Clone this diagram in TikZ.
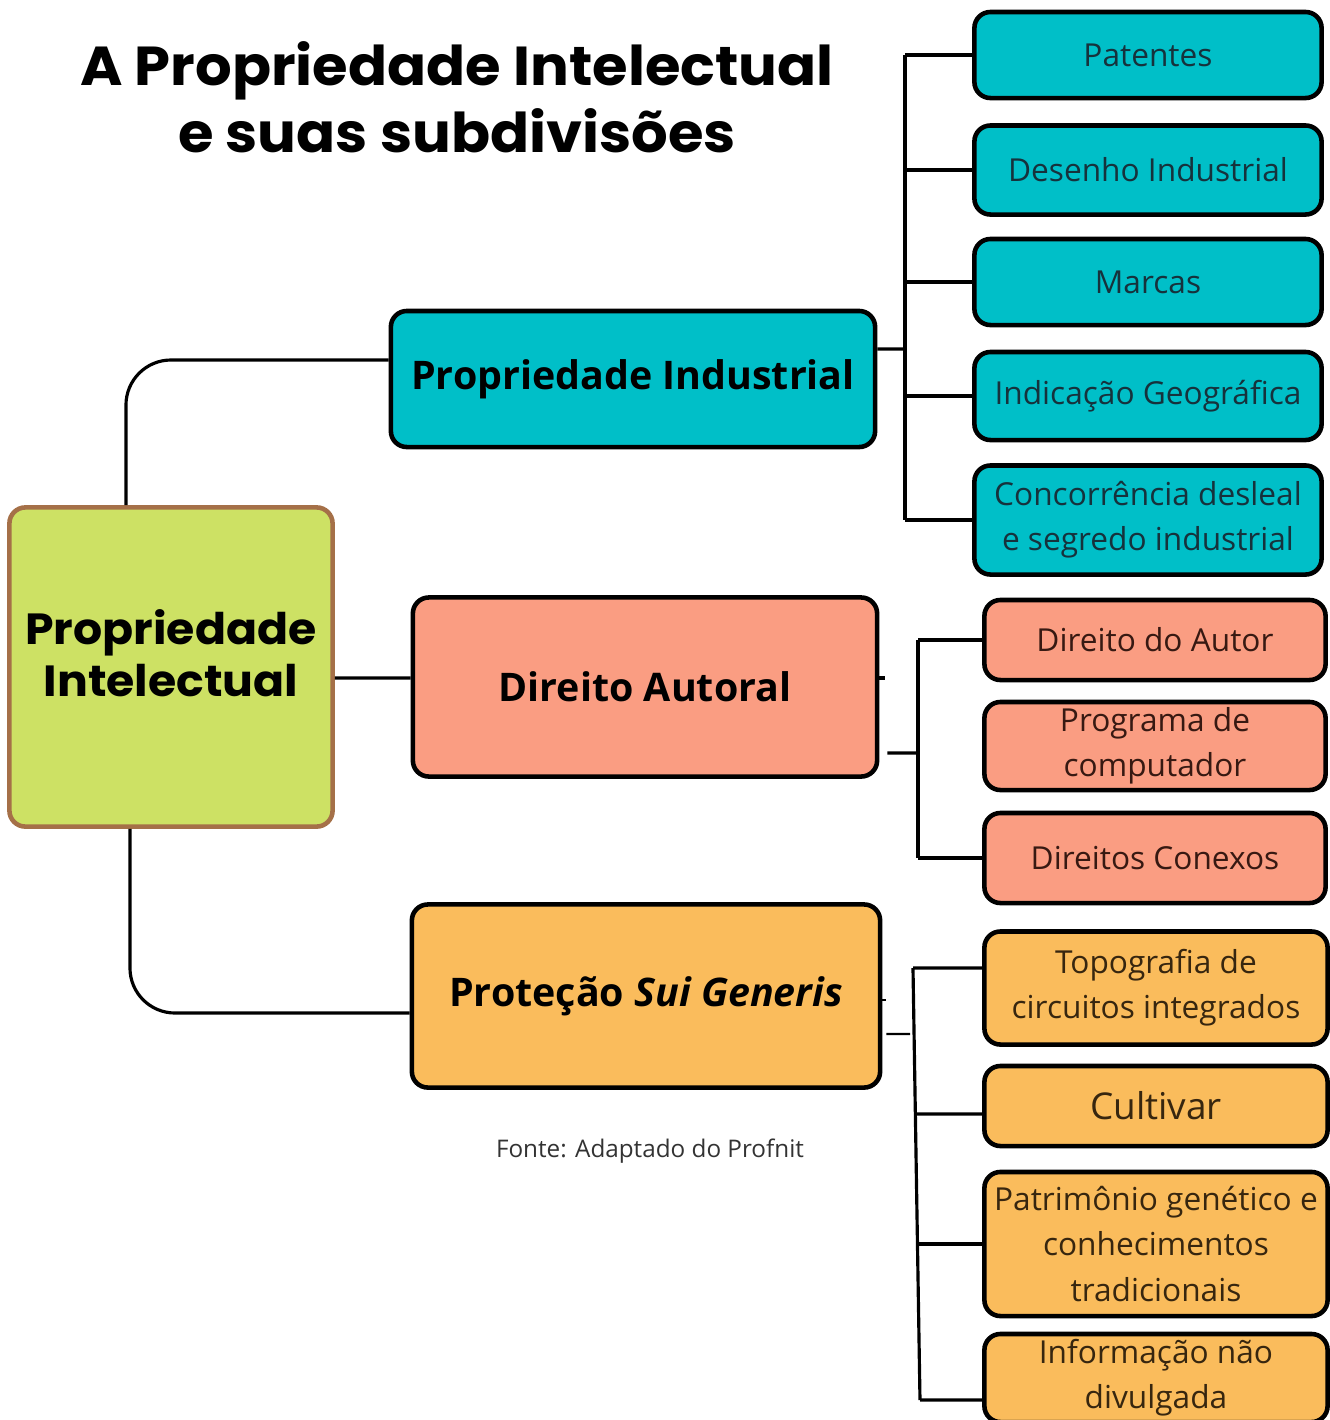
\documentclass[tikz,border=0pt]{standalone}
\usepackage{fontspec}
\setmainfont{Open Sans}
\newfontfamily\headfont{Poppins}[FakeStretch=1.05]
\definecolor{cyanbox}{RGB}{0,191,200}
\definecolor{salmonbox}{RGB}{250,157,130}
\definecolor{orangebox}{RGB}{250,188,92}
\definecolor{limebox}{RGB}{205,225,100}
\definecolor{rootedge}{RGB}{165,112,72}
\definecolor{cyantext}{RGB}{22,50,60}
\definecolor{salmontext}{RGB}{55,25,18}
\definecolor{orangetext}{RGB}{55,38,15}
\begin{document}
\begin{tikzpicture}[x=0.01cm, y=-0.01cm,
  box/.style={draw=black, line width=1.3pt, rounded corners=0.16cm, align=center, inner sep=0pt},
  leaf/.style={box, font=\fontsize{9}{12.8}\selectfont},
  mid/.style={box, font=\fontsize{11.2}{14}\bfseries\selectfont},
  link/.style={line width=0.9pt}]
\useasboundingbox (0,0) rectangle (1330,1420);
\fill[white] (0,0) rectangle (1330,1420);
\clip (0,0) rectangle (1330,1420);
% title and source
\node[align=center, font=\headfont\fontsize{15.6}{19}\bfseries\selectfont] (title) at (457,97) {A Propriedade Intelectual\\e suas subdivisões};
\node[font=\fontsize{6.9}{8}\selectfont, text=black!80] (fonte) at (650,1151) {Fonte: Adaptado do Profnit};
% root
\node[box, draw=rootedge, fill=limebox, minimum width=3.23cm, minimum height=3.19cm,
  font=\headfont\fontsize{12.4}{15}\bfseries\selectfont] (root) at (171,667) {Propriedade\\Intelectual\\[-0.25cm]};
% main branches
\node[mid, fill=cyanbox, minimum width=4.84cm, minimum height=1.36cm] (pind) at (633,379) {Propriedade Industrial};
\node[mid, fill=salmonbox, minimum width=4.64cm, minimum height=1.79cm] (dautor) at (645,687) {Direito Autoral};
\node[mid, fill=orangebox, minimum width=4.68cm, minimum height=1.83cm] (psg) at (646,996) {Proteção \textit{Sui Generis}};
% industrial leaves
\node[leaf, fill=cyanbox, text=cyantext, minimum width=3.47cm, minimum height=0.86cm] (pat) at (1148,55) {Patentes};
\node[leaf, fill=cyanbox, text=cyantext, minimum width=3.47cm, minimum height=0.89cm] (des) at (1148,170) {Desenho Industrial};
\node[leaf, fill=cyanbox, text=cyantext, minimum width=3.47cm, minimum height=0.86cm] (mar) at (1148,282) {Marcas};
\node[leaf, fill=cyanbox, text=cyantext, minimum width=3.47cm, minimum height=0.88cm] (geo) at (1148,396) {Indicação Geográfica};
\node[leaf, fill=cyanbox, text=cyantext, minimum width=3.47cm, minimum height=1.09cm] (conc) at (1148,520) {Concorrência desleal\\e segredo industrial};
% autoral leaves
\node[leaf, fill=salmonbox, text=salmontext, minimum width=3.41cm, minimum height=0.80cm] (dda) at (1155,640) {Direito do Autor};
\node[leaf, fill=salmonbox, text=salmontext, minimum width=3.41cm, minimum height=0.88cm] (prog) at (1155,746) {Programa de\\computador};
\node[leaf, fill=salmonbox, text=salmontext, minimum width=3.41cm, minimum height=0.90cm] (dcx) at (1155,858) {Direitos Conexos};
% sui generis leaves
\node[leaf, fill=orangebox, text=orangetext, minimum width=3.43cm, minimum height=1.13cm] (topo) at (1156,988) {Topografia de\\circuitos integrados};
\node[leaf, fill=orangebox, text=orangetext, minimum width=3.43cm, minimum height=0.80cm, font=\fontsize{10.5}{13}\selectfont] (cult) at (1156,1106) {Cultivar};
\node[leaf, fill=orangebox, text=orangetext, minimum width=3.43cm, minimum height=1.44cm] (patr) at (1156,1244) {Patrimônio genético e\\conhecimentos\\tradicionais};
\node[leaf, fill=orangebox, text=orangetext, minimum width=3.43cm, minimum height=0.88cm] (info) at (1156,1378) {Informação não\\divulgada};
% root links
\draw[link, rounded corners=0.45cm] ([xshift=-0.45cm]root.north) |- ([yshift=0.19cm]pind.west);
\draw[link] ([yshift=-0.11cm]root.east) -- ([yshift=0.09cm]dautor.west);
\draw[link, rounded corners=0.45cm] ([xshift=-0.41cm]root.south) |- ([yshift=-0.17cm]psg.west);
% industrial bracket
\coordinate (bi) at (905,349);
\draw[link] ([yshift=0.3cm]pind.east) -- (bi);
\draw[link] (bi |- pat.west) -- (bi |- conc.west);
\draw[link] (bi |- pat.west) -- (pat.west);
\draw[link] (bi |- des.west) -- (des.west);
\draw[link] (bi |- mar.west) -- (mar.west);
\draw[link] (bi |- geo.west) -- (geo.west);
\draw[link] (bi |- conc.west) -- (conc.west);
% autoral bracket
\coordinate (ba) at (918,753);
\draw[link] ([xshift=0.08cm, yshift=-0.66cm]dautor.east) -- (ba);
\draw[link] ([yshift=0.09cm]dautor.east) -- ++(6,0);
\draw[link] (ba |- dda.west) -- (ba |- dcx.west);
\draw[link] (ba |- dda.west) -- (dda.west);
\draw[link] (ba |- dcx.west) -- (dcx.west);
% sui generis bracket
\coordinate (bs) at (910,1034);
\coordinate (bstop) at (913,968);
\coordinate (bsend) at (920,1400);
\draw[link, line width=0.6pt] ([xshift=0.04cm, yshift=-0.38cm]psg.east) -- (bs);
\draw[link, line width=0.6pt] ([yshift=-0.04cm]psg.east) -- ++(4,0);
\draw[link] (bstop) -- (bsend);
\draw[link] (bstop) -- ([yshift=0.2cm]topo.west);
\draw[link] (bstop |- cult.west) ++(4,8) -- ([yshift=-0.08cm]cult.west);
\draw[link] (bstop |- patr.west) ++(5,0) -- (patr.west);
\draw[link] (bsend) -- ([yshift=-0.22cm]info.west);
\end{tikzpicture}
\end{document}
